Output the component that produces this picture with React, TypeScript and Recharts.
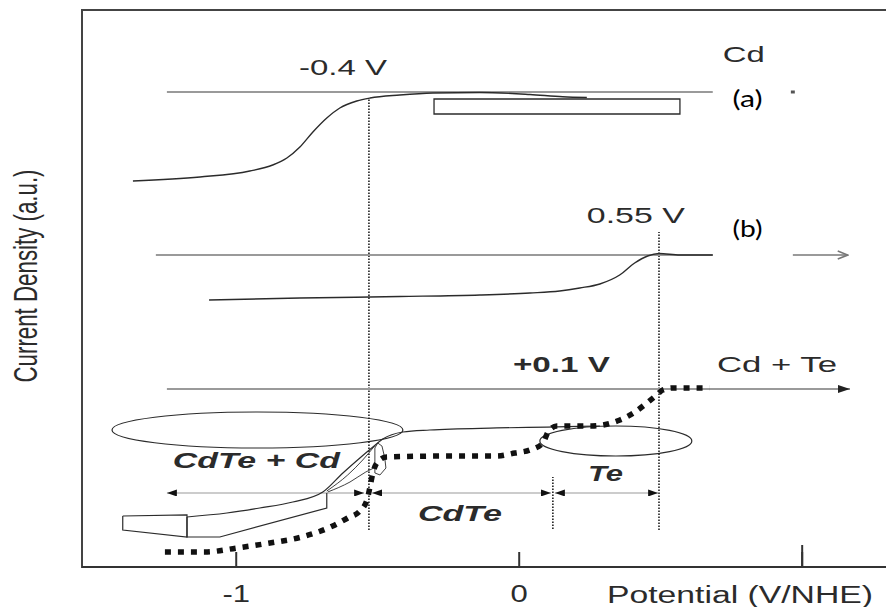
import React from "react";
import {
  LineChart,
  Line,
  XAxis,
  YAxis,
  ReferenceLine,
  ReferenceArea,
  ReferenceDot
} from "recharts";

type Pt = { x: number; y: number };
const pts = (arr: number[][]): Pt[] => arr.map(([x, y]) => ({ x, y }));

// x: potential (V/NHE), y: current density (a.u., 0..100)
const xTicks = [-1, 0, 1];

// (a) Cd deposition wave
const curveA = pts([
  [-1.365, 69.3], [-1.128, 70.02], [-0.952, 71.1], [-0.871, 72.17], [-0.821, 73.43],
  [-0.775, 75.4], [-0.729, 78.1], [-0.68, 80.61], [-0.634, 82.41], [-0.574, 83.66],
  [-0.527, 84.2], [-0.422, 84.74], [-0.305, 85.1], [-0.139, 85.19], [0.038, 84.83],
  [0.154, 84.43], [0.239, 84.29]
]);

// (b) Te deposition wave
const curveB = pts([
  [-1.096, 47.94], [-0.775, 48.29], [-0.422, 48.56], [-0.139, 48.83], [0.038, 49.19],
  [0.143, 49.55], [0.214, 50.09], [0.285, 50.81], [0.355, 52.42], [0.408, 54.58],
  [0.454, 55.83], [0.494, 56.28], [0.568, 56.01], [0.684, 56.01]
]);

// Cd + Te, dotted (square dash) curve
const curveDotted = pts([
  [-1.252, 2.69], [-1.111, 2.69], [-0.998, 3.41], [-0.881, 4.31], [-0.768, 5.39],
  [-0.659, 7.36], [-0.606, 8.8], [-0.563, 10.05], [-0.538, 12.03], [-0.528, 14.18],
  [-0.517, 16.88], [-0.503, 18.67], [-0.468, 19.75], [-0.245, 19.93], [-0.079, 19.93],
  [-0.015, 20.47], [0.038, 21.01], [0.084, 22.26], [0.102, 24.24], [0.133, 25.31],
  [0.204, 25.31], [0.257, 25.31], [0.313, 25.67], [0.356, 26.39], [0.409, 27.83],
  [0.451, 29.44], [0.486, 30.88], [0.507, 31.78], [0.542, 32.14], [0.673, 32.14]
]);

// Cd + Te, solid curve
const curveSolid = pts([
  [-1.174, 8.98], [-1.033, 9.69], [-0.917, 10.59], [-0.8, 11.67], [-0.694, 13.46],
  [-0.623, 16.88], [-0.563, 19.57], [-0.517, 21.54], [-0.482, 22.98], [-0.411, 24.24],
  [-0.316, 24.6], [-0.079, 24.96], [0.098, 25.13], [0.285, 25.31]
]);
const strand1 = pts([[-0.68, 13.64], [-0.606, 16.52], [-0.553, 19.21], [-0.511, 21.72]]);
const strand2 = pts([[-0.677, 13.46], [-0.598, 15.26], [-0.542, 17.06], [-0.514, 17.77]]);
const loop = pts([
  [-0.51, 21.36], [-0.5, 22.26], [-0.485, 21.72], [-0.475, 19.57], [-0.471, 17.77],
  [-0.492, 16.52], [-0.51, 16.88], [-0.51, 21.36]
]);

// bottom-left boxes
const box1 = pts([[-1.401, 9.16], [-1.174, 9.34], [-1.174, 5.39], [-1.401, 6.64], [-1.401, 9.16]]);
const box2 = pts([[-0.68, 13.29], [-0.68, 10.59], [-1.058, 5.39], [-1.174, 5.39], [-1.174, 8.98]]);

// baselines
const baseA = pts([[-1.245, 85.28], [0.684, 85.28]]);
const stubA = pts([[0.96, 85.28], [0.974, 85.28]]);
const baseB = pts([[-1.284, 56.01], [0.684, 56.01]]);
const tailB = pts([[0.967, 56.01], [1.161, 56.01]]);
const baseC = pts([[-1.245, 31.96], [1.169, 31.96]]);

// potential ranges
const dimCdTeCd = pts([[-1.245, 13.29], [-0.548, 13.29]]);
const dimCdTe = pts([[-0.52, 13.29], [0.112, 13.29]]);
const dimTe = pts([[0.126, 13.29], [0.491, 13.29]]);

const FONT = "'Liberation Sans', Arial, Helvetica, sans-serif";
const INK = "#2b2b2b";
const GREY = "#9a9a9a";

const notes = [
  { text: "-0.4 V", x: -0.778, y: 88.33, len: 88 },
  { text: "Cd", x: 0.719, y: 90.66, len: 42 },
  { text: "0.55 V", x: 0.239, y: 61.76, len: 98 },
  { text: "+0.1 V", x: -0.022, y: 35.01, len: 97, bold: true },
  { text: "Cd + Te", x: 0.699, y: 35.01, len: 120 },
  { text: "CdTe + Cd", x: -1.224, y: 17.77, len: 167, bold: true, italic: true },
  { text: "CdTe", x: -0.358, y: 8.26, len: 84, bold: true, italic: true },
  { text: "Te", x: 0.243, y: 15.44, len: 35, bold: true, italic: true },
  { text: "(a)", x: 0.754, y: 82.59, len: 30, calibri: true },
  { text: "(b)", x: 0.754, y: 59.25, len: 30, calibri: true }
];

const XTick = (props: any) => {
  const { x, y, payload } = props;
  const label = payload.value === 1 ? "" : String(payload.value);
  return (
    <text
      transform={`translate(${x},${y}) scale(1.35,1)`}
      textAnchor="middle"
      fontFamily={FONT}
      fontSize={23}
      fill={INK}
    >
      {label}
    </text>
  );
};

const ellipseShape = (props: any) => {
  const { x, y, width, height } = props;
  return (
    <ellipse
      cx={x + width / 2}
      cy={y + height / 2}
      rx={width / 2}
      ry={height / 2}
      fill="none"
      stroke={INK}
      strokeWidth={1.2}
    />
  );
};

const lineProps = {
  dataKey: "y",
  dot: false,
  activeDot: false,
  isAnimationActive: false,
  type: "linear" as const
};

const App: React.FC = () => {
  return (
    <div
      style={{
        position: "absolute",
        left: 0,
        top: 0,
        width: 886,
        height: 607,
        overflow: "hidden",
        background: "#fff"
      }}
    >
      <svg width={0} height={0} style={{ position: "absolute" }}>
        <defs>
          <marker id="head" viewBox="0 0 10 7" refX={10} refY={3.5} markerWidth={10} markerHeight={7}
            markerUnits="userSpaceOnUse" orient="auto-start-reverse">
            <path d="M0,0 L10,3.5 L0,7 z" fill="#111" />
          </marker>
          <marker id="bighead" viewBox="0 0 12 8" refX={12} refY={4} markerWidth={12} markerHeight={8}
            markerUnits="userSpaceOnUse" orient="auto">
            <path d="M0,0 L12,4 L0,8 z" fill="#222" />
          </marker>
          <marker id="openhead" viewBox="0 0 12 10" refX={11} refY={5} markerWidth={12} markerHeight={10}
            markerUnits="userSpaceOnUse" orient="auto">
            <path d="M1,1 L11,5 L1,9" fill="none" stroke="#777" strokeWidth={1.6} />
          </marker>
        </defs>
      </svg>

      <LineChart width={900} height={607} margin={{ top: 10, right: 5, left: 82, bottom: 10 }}>
        <XAxis
          type="number"
          dataKey="x"
          domain={[-1.545, 1.328]}
          allowDataOverflow
          ticks={xTicks}
          height={30}
          axisLine={{ stroke: "#333", strokeWidth: 2 }}
          tickLine={{ stroke: "#333", strokeWidth: 2 }}
          tickSize={-15}
          tickMargin={50}
          tick={<XTick />}
        />
        <YAxis type="number" dataKey="y" domain={[0, 100]} hide allowDataOverflow />

        {/* frame */}
        <ReferenceArea x1={-1.545} x2={1.328} y1={0} y2={100} fill="none" stroke="#444" strokeWidth={2} />
        <ReferenceLine segment={[{ x: 1, y: 0 }, { x: 1, y: 3.95 }]} stroke="#333" strokeWidth={2} />

        {/* boxes and ellipses */}
        <ReferenceArea x1={-0.301} x2={0.568} y1={81.33} y2={84.02} fill="#fff" stroke={INK} strokeWidth={1.3} />
        <ReferenceArea x1={-1.439} x2={-0.411} y1={21.36} y2={27.83} shape={ellipseShape} />
        <ReferenceArea x1={0.073} x2={0.61} y1={19.93} y2={25.31} shape={ellipseShape} />

        {/* dotted markers of the potentials */}
        <ReferenceLine segment={[{ x: -0.531, y: 6.64 }, { x: -0.531, y: 84.2 }]} stroke="#111" strokeWidth={1.5} strokeDasharray="1.5 1.5" />
        <ReferenceLine segment={[{ x: 0.494, y: 6.64 }, { x: 0.494, y: 60.14 }]} stroke="#111" strokeWidth={1.5} strokeDasharray="1.5 1.5" />
        <ReferenceLine segment={[{ x: 0.119, y: 6.82 }, { x: 0.119, y: 16.16 }]} stroke="#111" strokeWidth={1.5} strokeDasharray="1.5 1.5" />

        {/* baselines */}
        <Line {...lineProps} data={baseA} stroke={GREY} strokeWidth={2} />
        <Line {...lineProps} data={stubA} stroke="#555" strokeWidth={3} />
        <Line {...lineProps} data={baseB} stroke={GREY} strokeWidth={2} />
        <Line {...lineProps} data={tailB} stroke={GREY} strokeWidth={2} markerEnd="url(#openhead)" />
        <Line {...lineProps} data={baseC} stroke={GREY} strokeWidth={2} markerEnd="url(#bighead)" />

        {/* range arrows */}
        <Line {...lineProps} data={dimCdTeCd} stroke={GREY} strokeWidth={1.2} markerStart="url(#head)" markerEnd="url(#head)" />
        <Line {...lineProps} data={dimCdTe} stroke={GREY} strokeWidth={1.2} markerStart="url(#head)" markerEnd="url(#head)" />
        <Line {...lineProps} data={dimTe} stroke={GREY} strokeWidth={1.2} markerStart="url(#head)" markerEnd="url(#head)" />

        {/* curves */}
        <Line {...lineProps} data={box1} stroke={INK} strokeWidth={1.2} />
        <Line {...lineProps} data={box2} stroke={INK} strokeWidth={1.2} />
        <Line {...lineProps} type="monotone" data={curveA} stroke={INK} strokeWidth={1.4} />
        <Line {...lineProps} type="monotone" data={curveB} stroke={INK} strokeWidth={1.4} />
        <Line {...lineProps} type="monotone" data={curveSolid} stroke={INK} strokeWidth={1.2} />
        <Line {...lineProps} type="monotone" data={strand1} stroke={INK} strokeWidth={0.9} />
        <Line {...lineProps} type="monotone" data={strand2} stroke={INK} strokeWidth={0.9} />
        <Line {...lineProps} data={loop} stroke={INK} strokeWidth={0.9} />
        <Line {...lineProps} type="monotone" data={curveDotted} stroke="#111" strokeWidth={5.5} strokeDasharray="6 7" />

        {/* annotations */}
        {notes.map((n) => (
          <ReferenceDot
            key={n.text}
            x={n.x}
            y={n.y}
            r={1}
            shape={(p: any) => (
              <text
                x={p.cx}
                y={p.cy}
                fontFamily={n.calibri ? "Lato, 'Open Sans', sans-serif" : FONT}
                fontSize={n.calibri ? 23 : 22}
                fontWeight={n.bold ? "bold" : "normal"}
                fontStyle={n.italic ? "italic" : "normal"}
                fill={n.calibri ? "#000" : INK}
                textLength={n.len}
                lengthAdjust="spacingAndGlyphs"
              >
                {n.text}
              </text>
            )}
          />
        ))}
      </LineChart>

      <svg width={886} height={607} style={{ position: "absolute", left: 0, top: 0, pointerEvents: "none" }}>
        <text
          transform="translate(37,276) scale(1.5,1) rotate(-90)"
          textAnchor="middle"
          fontFamily={FONT}
          fontSize={22}
          fill={INK}
          textLength={213}
          lengthAdjust="spacingAndGlyphs"
        >
          Current Density (a.u.)
        </text>
        <text
          x={607}
          y={603}
          fontFamily={FONT}
          fontSize={23}
          fill={INK}
          textLength={266}
          lengthAdjust="spacingAndGlyphs"
        >
          Potential (V/NHE)
        </text>
      </svg>
    </div>
  );
};

export default App;
